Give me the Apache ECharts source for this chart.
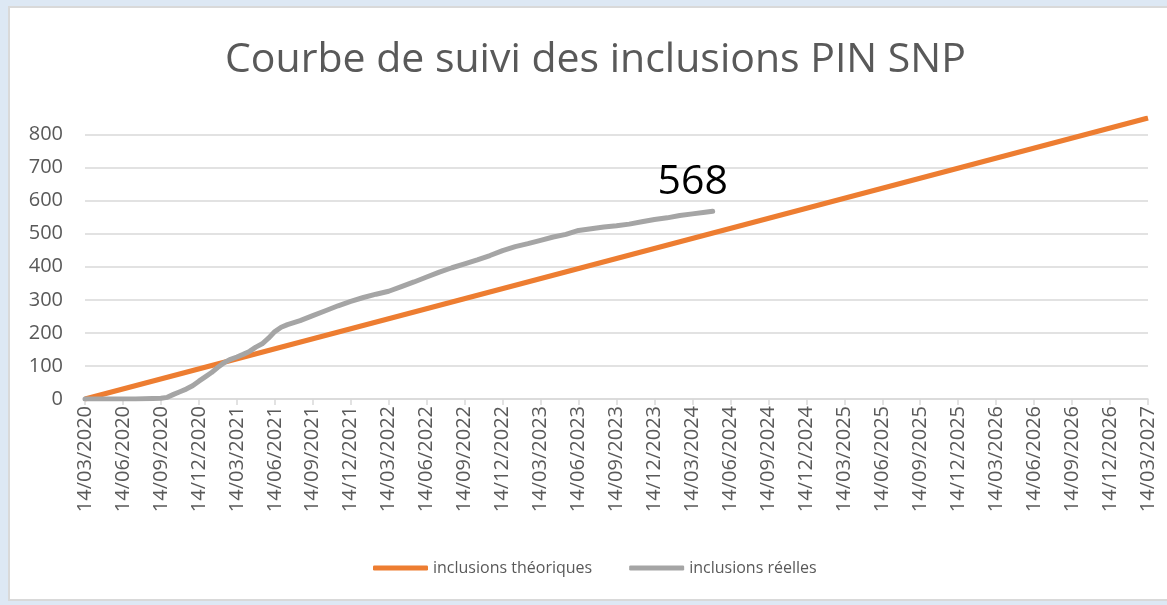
<!DOCTYPE html>
<html>
<head>
<meta charset="utf-8">
<script src="https://cdn.jsdelivr.net/npm/echarts@6/dist/echarts.min.js"></script>
<style>
  html, body { margin: 0; padding: 0; }
  body { width: 1167px; height: 605px; background: #dde8f4; position: relative; overflow: hidden; }
  .panel {
    position: absolute; left: 8px; top: 6px; width: 1170px; height: 595px;
    background: #fff; border: 2px solid #d9d9d9; box-sizing: border-box;
  }
  #main { position: absolute; left: 0; top: 0; width: 1167px; height: 605px; }
</style>
</head>
<body>
<div class="panel"></div>
<div id="main"></div>
<script>
  // axe X : mois écoulés depuis le 14/03/2020, une graduation par trimestre
  var tickLabels = [
    '14/03/2020', '14/06/2020', '14/09/2020', '14/12/2020',
    '14/03/2021', '14/06/2021', '14/09/2021', '14/12/2021',
    '14/03/2022', '14/06/2022', '14/09/2022', '14/12/2022',
    '14/03/2023', '14/06/2023', '14/09/2023', '14/12/2023',
    '14/03/2024', '14/06/2024', '14/09/2024', '14/12/2024',
    '14/03/2025', '14/06/2025', '14/09/2025', '14/12/2025',
    '14/03/2026', '14/06/2026', '14/09/2026', '14/12/2026',
    '14/03/2027'
  ];

  // inclusions théoriques
  var theoMonths = [0, 84];
  var theoValues = [0, 850];

  // inclusions réelles
  var realMonths = [0, 2, 4, 6, 6.5, 7, 7.5, 8, 8.5, 9, 9.5, 10, 10.5, 11, 11.5, 12, 12.5, 13, 13.5,
    14, 14.5, 15, 15.5, 16, 17, 18, 19, 20, 21, 22, 23, 24, 25, 26, 27, 28, 29, 30, 31, 32, 33,
    34, 35, 36, 37, 38, 39, 40, 41, 42, 43, 44, 45, 46, 47, 48, 49, 49.6];
  var realValues = [0, 0, 0, 2, 5, 14, 22, 30, 40, 54, 67, 80, 96, 110, 120, 127, 135, 144, 157,
    167, 184, 204, 217, 225, 237, 252, 267, 282, 295, 307, 317, 326, 340, 354, 369, 384, 397, 409, 421, 434, 449,
    461, 470, 480, 490, 498, 510, 515, 520, 524, 529, 536, 543, 548, 555, 560, 565, 568];

  var theoData = theoMonths.map(function (m, i) { return [m, theoValues[i]]; });
  var realData = realMonths.map(function (m, i) { return [m, realValues[i]]; });
  var lastReal = realValues[realValues.length - 1];

  var myChart = echarts.init(document.getElementById('main'));
  myChart.setOption({
    animation: false,
    textStyle: { fontFamily: 'Open Sans' },
    title: {
      text: 'Courbe de suivi des inclusions PIN SNP',
      left: 220,
      top: 35,
      textStyle: { fontSize: 41, fontWeight: 'normal', color: '#595959', fontFamily: 'Open Sans' }
    },
    legend: {
      bottom: 24,
      left: 368,
      itemWidth: 55,
      itemHeight: 5,
      itemGap: 37,
      icon: 'roundRect',
      textStyle: { fontSize: 16, color: '#595959' },
      data: ['inclusions théoriques', 'inclusions réelles']
    },
    grid: { left: 85, right: 19, top: 118, bottom: 206, containLabel: false },
    xAxis: {
      type: 'value',
      min: 0,
      max: 84,
      interval: 3,
      axisLine: { show: true, lineStyle: { color: '#d9d9d9', width: 1.5 } },
      axisTick: { show: true, length: 6, lineStyle: { color: '#d9d9d9', width: 1.5 } },
      splitLine: { show: false },
      axisLabel: {
        rotate: 90,
        margin: 7,
        fontSize: 20,
        color: '#595959',
        formatter: function (v) { return tickLabels[Math.round(v / 3)] || ''; }
      }
    },
    yAxis: {
      type: 'value',
      min: 0,
      max: 850,
      interval: 100,
      axisLine: { show: false },
      axisTick: { show: false },
      splitLine: { show: true, showMaxLine: false, lineStyle: { color: '#d9d9d9', width: 1.5 } },
      axisLabel: { fontSize: 20, color: '#595959', margin: 22, showMaxLabel: false }
    },
    series: [{
      name: 'inclusions théoriques',
      type: 'line',
      symbol: 'none',
      color: '#ed7d31',
      lineStyle: { width: 5, color: '#ed7d31' },
      data: theoData
    }, {
      name: 'inclusions réelles',
      type: 'line',
      symbol: 'none',
      color: '#a5a5a5',
      lineStyle: { width: 5, color: '#a5a5a5', cap: 'round', join: 'round' },
      endLabel: {
        show: true,
        formatter: String(lastReal),
        fontSize: 41,
        color: '#000',
        fontFamily: 'Open Sans',
        align: 'center',
        verticalAlign: 'bottom',
        distance: 0,
        offset: [-20, -8]
      },
      data: realData
    }]
  });
</script>
</body>
</html>
